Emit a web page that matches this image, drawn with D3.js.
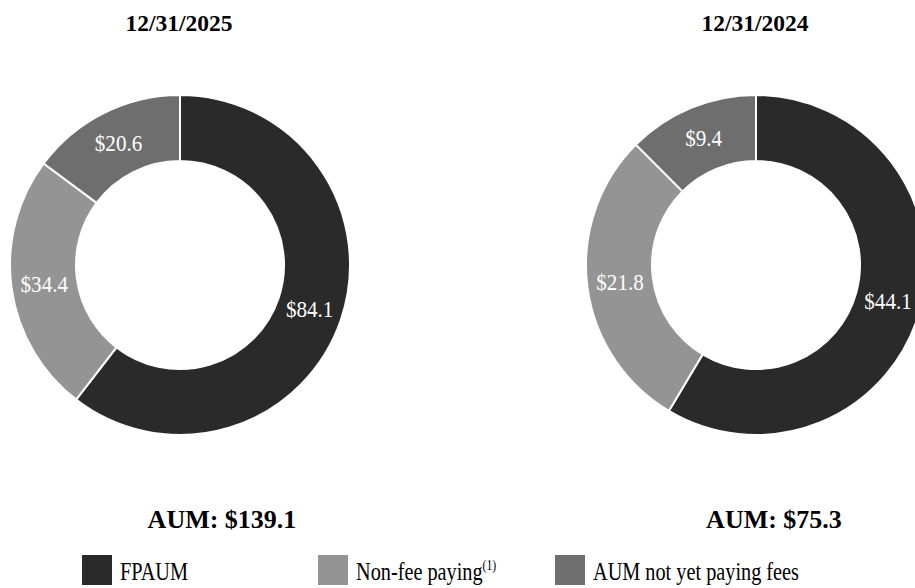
<!DOCTYPE html>
<html>
<head>
<meta charset="utf-8">
<script src="https://cdn.jsdelivr.net/npm/d3@7"></script>
<style>
  html, body { margin: 0; padding: 0; background: #ffffff; }
  svg { display: block; }
</style>
</head>
<body>
<svg id="chart" width="915" height="588"></svg>
<script>
// ---- data ----
const categories = ["FPAUM", "Non-fee paying", "AUM not yet paying fees"];
const periods = ["12/31/2025", "12/31/2024"];
const values2025 = [84.1, 34.4, 20.6];
const values2024 = [44.1, 21.8, 9.4];
const totals = [139.1, 75.3];
const colors = ["#2a2a2a", "#949494", "#6e6e6e"];

const svg = d3.select("#chart");
const font = "'Liberation Serif', 'Times New Roman', serif";

const color = d3.scaleOrdinal().domain(categories).range(colors);
const centerX = d3.scalePoint().domain(periods).range([180, 756]);
const cy = 265, outerR = 170, innerR = 104;

const pie = d3.pie().sort(null).value(d => d.value);
const arc = d3.arc().innerRadius(innerR).outerRadius(outerR);

const series = [values2025, values2024];
const aumOffset = [42, 18];

periods.forEach((p, i) => {
  const cx = centerX(p);
  const data = categories.map((c, j) => ({ cat: c, value: series[i][j] }));
  const g = svg.append("g").attr("transform", `translate(${cx},${cy})`);
  const arcs = pie(data);
  g.selectAll("path").data(arcs).enter().append("path")
    .attr("d", arc)
    .attr("fill", d => color(d.data.cat))
    .attr("stroke", "#ffffff")
    .attr("stroke-width", 2);
  g.selectAll("text").data(arcs).enter().append("text")
    .attr("transform", d => `translate(${arc.centroid(d)}) scale(0.88,1)`)
    .attr("text-anchor", "middle")
    .attr("dominant-baseline", "central")
    .attr("fill", "#ffffff")
    .attr("font-family", font)
    .attr("font-size", 24)
    .text(d => "$" + d.data.value.toFixed(1));

  svg.append("text")
    .attr("x", cx - 1).attr("y", 31)
    .attr("text-anchor", "middle")
    .attr("font-family", font).attr("font-weight", "bold").attr("font-size", 23.5)
    .attr("fill", "#000")
    .text(p);

  svg.append("text")
    .attr("x", cx + aumOffset[i]).attr("y", 527.5)
    .attr("text-anchor", "middle")
    .attr("font-family", font).attr("font-weight", "bold").attr("font-size", 26)
    .attr("fill", "#000")
    .text("AUM: $" + totals[i].toFixed(1));
});

// ---- legend ----
const legendX = d3.scaleOrdinal().domain(categories).range([82, 318, 555]);
const lg = svg.selectAll("g.legend").data(categories).enter().append("g")
  .attr("class", "legend")
  .attr("transform", d => `translate(${legendX(d)},555)`);
lg.append("rect").attr("width", 30).attr("height", 30).attr("fill", d => color(d));
const lt = lg.append("text")
  .attr("transform", "translate(38,25) scale(0.78,1)")
  .attr("font-family", font).attr("font-size", 26).attr("fill", "#000");
lt.append("tspan").text(d => d);
lt.filter(d => d === "Non-fee paying").append("tspan")
  .attr("font-size", 15).attr("dy", -10).text("(1)");
</script>
</body>
</html>
